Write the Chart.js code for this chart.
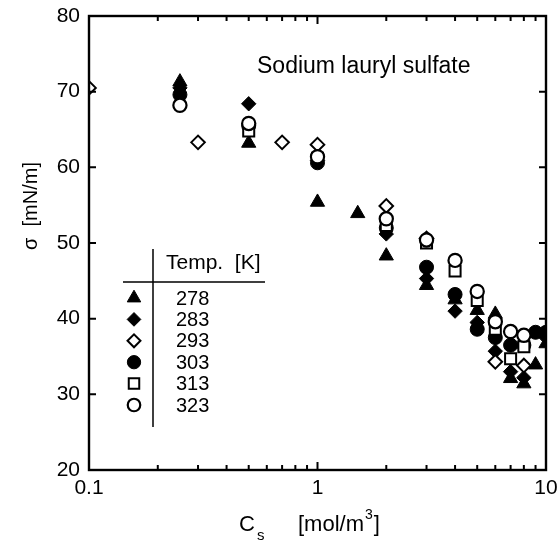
<!DOCTYPE html>
<html>
<head>
<meta charset="utf-8">
<script src="https://cdn.jsdelivr.net/npm/chart.js@4.4.0/dist/chart.umd.min.js"></script>
<style>
html,body{margin:0;padding:0;background:#fff;}
#wrap{position:relative;width:559px;height:550px;}
</style>
</head>
<body>
<div id="wrap"><canvas id="c" width="559" height="550"></canvas></div>
<script>
// ---- data ----
const temps = ['278', '283', '293', '303', '313', '323'];
const xTickValues = [0.1, 0.2, 0.3, 0.4, 0.5, 0.6, 0.7, 0.8, 0.9, 1, 2, 3, 4, 5, 6, 7, 8, 9, 10];
const xTickLabels = ['0.1', '1', '10'];
const yTickValues = [20, 30, 40, 50, 60, 70, 80];

const cs278 = [0.25, 0.5, 1, 1.5, 2, 3, 4, 5, 6, 7, 8, 9, 10];
const sig278 = [71.3, 63.2, 55.4, 53.9, 48.3, 44.4, 42.5, 41.1, 40.6, 32.1, 31.4, 33.9, 36.7];

const cs283 = [0.25, 0.5, 1, 2, 3, 4, 5, 6, 7, 8, 10];
const sig283 = [70.5, 68.4, 60.9, 51.2, 45.3, 41.0, 39.5, 35.7, 33.0, 32.2, 37.5];

const cs293 = [0.1, 0.3, 0.7, 1, 2, 3, 6, 8];
const sig293 = [70.5, 63.3, 63.3, 63.0, 54.9, 50.6, 34.3, 33.8];

const cs303 = [0.25, 0.5, 1, 2, 3, 4, 5, 6, 7, 8, 9, 10];
const sig303 = [69.6, 65.5, 60.6, 52.0, 46.8, 43.2, 38.6, 37.5, 36.5, 36.5, 38.2, 38.2];

const cs313 = [0.5, 1, 2, 3, 4, 5, 6, 7, 8];
const sig313 = [64.8, 61.2, 52.3, 50.0, 46.3, 42.4, 38.6, 34.7, 36.3];

const cs323 = [0.25, 0.5, 1, 2, 3, 4, 5, 6, 7, 8];
const sig323 = [68.2, 65.8, 61.4, 53.2, 50.4, 47.7, 43.6, 39.6, 38.3, 37.8];

// ---- styles ----
const FONT = '"Liberation Sans", Arial, Helvetica, sans-serif';
const styles = [
  {pointStyle: 'triangle', radius: 8.2, fill: '#000', border: 1},
  {pointStyle: 'rectRot', radius: 7.2, fill: '#000', border: 1},
  {pointStyle: 'rectRot', radius: 6.8, fill: '#fff', border: 2},
  {pointStyle: 'circle', radius: 7, fill: '#000', border: 1},
  {pointStyle: 'rect', radius: 7.8, fill: '#fff', border: 2},
  {pointStyle: 'circle', radius: 6.6, fill: '#fff', border: 2.2}
];
const seriesX = [cs278, cs283, cs293, cs303, cs313, cs323];
const seriesY = [sig278, sig283, sig293, sig303, sig313, sig323];

const datasets = temps.map((t, i) => ({
  label: t,
  data: seriesX[i].map((x, k) => ({x: x, y: seriesY[i][k]})),
  pointStyle: styles[i].pointStyle,
  pointRadius: styles[i].radius,
  pointHoverRadius: styles[i].radius,
  backgroundColor: styles[i].fill,
  borderColor: '#000',
  pointBorderWidth: styles[i].border,
  showLine: false,
  order: 6 - i
}));

const framePlugin = {
  id: 'frame',
  afterDraw(chart) {
    const {ctx, chartArea: a, scales} = chart;
    const xs = scales.x, ys = scales.y;
    ctx.save();
    ctx.strokeStyle = '#000';
    ctx.lineWidth = 2.4;
    ctx.strokeRect(a.left, a.top, a.right - a.left, a.bottom - a.top);
    ctx.lineWidth = 2;
    ctx.beginPath();
    yTickValues.forEach(v => {
      if (v === 20 || v === 80) return;
      const y = ys.getPixelForValue(v);
      ctx.moveTo(a.left, y); ctx.lineTo(a.left + 7, y);
      ctx.moveTo(a.right, y); ctx.lineTo(a.right - 7, y);
    });
    xTickValues.forEach(v => {
      if (v === 0.1 || v === 10) return;
      const x = xs.getPixelForValue(v);
      const len = (v === 1) ? 8 : 5;
      ctx.moveTo(x, a.bottom); ctx.lineTo(x, a.bottom - len);
      ctx.moveTo(x, a.top); ctx.lineTo(x, a.top + len);
    });
    ctx.stroke();

    // axis titles
    ctx.fillStyle = '#000';
    ctx.textBaseline = 'alphabetic';
    ctx.textAlign = 'left';
    ctx.font = '22px ' + FONT;
    ctx.fillText('C', 239, 531);
    ctx.font = '15px ' + FONT;
    ctx.fillText('s', 257, 540);
    ctx.font = '22px ' + FONT;
    ctx.fillText('[mol/m', 298, 531);
    const w1 = ctx.measureText('[mol/m').width;
    ctx.font = '14px ' + FONT;
    ctx.fillText('3', 298 + w1 + 1, 519);
    const w2 = ctx.measureText('3').width;
    ctx.font = '22px ' + FONT;
    ctx.fillText(']', 298 + w1 + w2 + 2, 531);

    ctx.save();
    ctx.translate(37, 206);
    ctx.rotate(-Math.PI / 2);
    ctx.textAlign = 'center';
    ctx.font = '20px ' + FONT;
    ctx.fillText('\u03c3  [mN/m]', 0, 0);
    ctx.restore();

    // annotation
    ctx.font = '23px ' + FONT;
    ctx.textAlign = 'left';
    ctx.fillText('Sodium lauryl sulfate', 257, 73);

    // legend table
    ctx.lineWidth = 1.5;
    ctx.beginPath();
    ctx.moveTo(153, 249); ctx.lineTo(153, 427);
    ctx.moveTo(123, 282); ctx.lineTo(265, 282);
    ctx.stroke();
    ctx.font = '21px ' + FONT;
    ctx.fillText('Temp.  [K]', 166, 269);
    const rowY0 = 298, rowStep = 21.4;
    ctx.font = '20px ' + FONT;
    temps.forEach((t, i) => {
      const y = rowY0 + i * rowStep;
      ctx.fillStyle = '#000';
      ctx.textBaseline = 'middle';
      ctx.fillText(t, 176, y + 1);
      const s = styles[i];
      ctx.fillStyle = s.fill;
      ctx.strokeStyle = '#000';
      ctx.lineWidth = s.border;
      Chart.helpers.drawPoint(ctx, {pointStyle: s.pointStyle, radius: s.radius * 0.95, rotation: 0, borderWidth: s.border}, 134, y);
    });
    ctx.restore();
  }
};

new Chart(document.getElementById('c'), {
  type: 'scatter',
  data: {datasets},
  options: {
    responsive: false,
    animation: false,
    events: [],
    layout: {padding: {left: 0, right: 13, top: 16, bottom: 0}},
    plugins: {legend: {display: false}, tooltip: {enabled: false}},
    scales: {
      x: {
        type: 'logarithmic',
        min: 0.1, max: 10,
        afterBuildTicks(s) { s.ticks = xTickValues.map(v => ({value: v})); },
        afterFit(s) { s.height = 80; s.paddingLeft = 0; s.paddingRight = 0; },
        grid: {display: false, drawTicks: false},
        border: {display: false},
        ticks: {
          autoSkip: false, maxRotation: 0, padding: 6,
          color: '#000', font: {family: FONT, size: 21},
          callback(v) {
            const lbl = xTickLabels.find(l => Math.abs(parseFloat(l) - v) < 1e-9);
            return lbl === undefined ? '' : lbl;
          }
        }
      },
      y: {
        min: 20, max: 80,
        afterBuildTicks(s) { s.ticks = yTickValues.map(v => ({value: v})); },
        afterFit(s) { s.width = 89; s.paddingTop = 0; s.paddingBottom = 0; },
        grid: {display: false, drawTicks: false},
        border: {display: false},
        ticks: {
          padding: 9, color: '#000', font: {family: FONT, size: 21}
        }
      }
    }
  },
  plugins: [framePlugin]
});
</script>
</body>
</html>
